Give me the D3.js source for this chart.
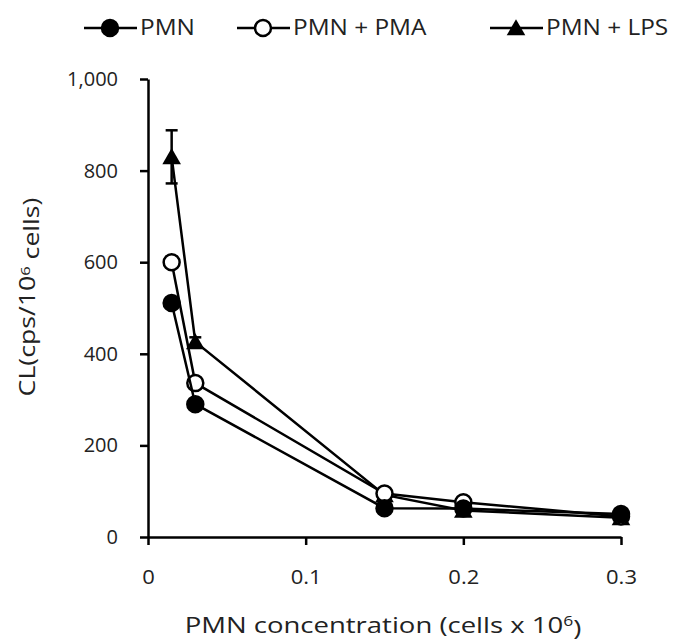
<!DOCTYPE html>
<html>
<head>
<meta charset="utf-8">
<script src="https://cdn.jsdelivr.net/npm/d3@7"></script>
<style>
  body { margin: 0; background: #fff; }
  text { font-family: "Open Sans", sans-serif; fill: #222; }
</style>
</head>
<body>
<div class="chart"></div>
<script>
var svgWidth = 686;
var svgHeight = 641;

var margin = { top: 79, right: 65, bottom: 104, left: 148 };
var width = svgWidth - margin.left - margin.right;
var height = svgHeight - margin.top - margin.bottom;

// data
var concentration = [0.015, 0.03, 0.15, 0.2, 0.3];
var pmn = [511, 290, 63, 62, 50];
var pmnPma = [600, 336, 95, 76, 45];
var pmnLps = [830, 426, 92, 58, 42];
var pmnLpsErr = [58, 10, 0, 0, 0];
var xTicks = [0, 0.1, 0.2, 0.3];
var yTicks = [0, 200, 400, 600, 800, 1000];

var series = [
  { name: "PMN + LPS", values: pmnLps, err: pmnLpsErr, marker: "triangle" },
  { name: "PMN + PMA", values: pmnPma, marker: "open" },
  { name: "PMN", values: pmn, marker: "filled" }
];

// the source font runs wider than Open Sans in the titles
var stretch = 1.22;

var svg = d3.select(".chart")
  .append("svg")
  .attr("width", svgWidth)
  .attr("height", svgHeight);

var chartGroup = svg.append("g")
  .attr("transform", `translate(${margin.left}, ${margin.top})`);

var x = d3.scaleLinear().domain([0, 0.3]).range([0, width]);
var y = d3.scaleLinear().domain([0, 1000]).range([height, 0]);

var bottomAxis = d3.axisBottom(x)
  .tickValues(xTicks)
  .tickSize(8)
  .tickSizeOuter(0)
  .tickPadding(25)
  .tickFormat(d => d === 0 ? "0" : d.toFixed(1));

var leftAxis = d3.axisLeft(y)
  .tickValues(yTicks)
  .tickSize(8)
  .tickSizeOuter(0)
  .tickPadding(22)
  .tickFormat(d3.format(","));

var xAxis = chartGroup.append("g")
  .attr("transform", `translate(0, ${height})`)
  .call(bottomAxis);

var yAxis = chartGroup.append("g")
  .call(leftAxis);

[xAxis, yAxis].forEach(function(a) {
  a.selectAll("path, line").attr("stroke", "#000").attr("stroke-width", 2.5);
  a.selectAll("text").style("font-size", "20px").attr("fill", "#222");
});

xAxis.selectAll("text").attr("transform", "scale(1.1,1)");

function drawMarker(g, type, cx, cy) {
  if (type === "triangle") {
    g.append("path")
      .attr("d", d3.symbol().type(d3.symbolTriangle).size(150)())
      .attr("transform", `translate(${cx}, ${cy + 2})`)
      .attr("fill", "#000");
  } else {
    g.append("circle")
      .attr("cx", cx)
      .attr("cy", cy)
      .attr("r", 8)
      .attr("fill", type === "open" ? "#fff" : "#000")
      .attr("stroke", "#000")
      .attr("stroke-width", 2.5);
  }
}

var line = d3.line()
  .x((d, i) => x(concentration[i]))
  .y(d => y(d));

series.forEach(function(s) {
  var g = chartGroup.append("g");
  g.append("path")
    .datum(s.values)
    .attr("d", line)
    .attr("fill", "none")
    .attr("stroke", "#000")
    .attr("stroke-width", 2.5);

  if (s.err) {
    s.values.forEach(function(v, i) {
      if (!s.err[i]) return;
      var cx = x(concentration[i]);
      g.append("line")
        .attr("x1", cx).attr("x2", cx)
        .attr("y1", y(v - s.err[i])).attr("y2", y(v + s.err[i]))
        .attr("stroke", "#000").attr("stroke-width", 2.5);
      [v - s.err[i], v + s.err[i]].forEach(function(e) {
        g.append("line")
          .attr("x1", cx - 6).attr("x2", cx + 6)
          .attr("y1", y(e)).attr("y2", y(e))
          .attr("stroke", "#000").attr("stroke-width", 2.5);
      });
    });
  }

  s.values.forEach(function(v, i) {
    drawMarker(g, s.marker, x(concentration[i]), y(v));
  });
});

// legend
var legendItems = [
  { name: "PMN", marker: "filled", x: 84 },
  { name: "PMN + PMA", marker: "open", x: 237 },
  { name: "PMN + LPS", marker: "triangle", x: 490 }
];

var legend = svg.append("g").attr("transform", "translate(0, 28)");
legendItems.forEach(function(it) {
  var g = legend.append("g");
  g.append("line")
    .attr("x1", it.x).attr("x2", it.x + 53)
    .attr("y1", 0).attr("y2", 0)
    .attr("stroke", "#000").attr("stroke-width", 2.5);
  drawMarker(g, it.marker, it.x + 26, 0);
  g.append("text")
    .attr("transform", `translate(${it.x + 56}, 0) scale(1.16,1)`)
    .attr("dy", "0.35em")
    .style("font-size", "21px")
    .text(it.name);
});

// axis titles
var xTitle = svg.append("text")
  .attr("transform", `translate(383, 625) scale(${stretch + 0.03},1)`)
  .attr("dy", "0.35em")
  .attr("text-anchor", "middle")
  .style("font-size", "22px");
xTitle.append("tspan").text("PMN concentration (cells x 10");
xTitle.append("tspan").attr("dy", "-0.45em").style("font-size", "14px").text("6");
xTitle.append("tspan").attr("dy", "0.45em").text(")");

var yTitle = svg.append("text")
  .attr("transform", `translate(28, 297) rotate(-90) scale(${stretch + 0.05},1)`)
  .attr("dy", "0.35em")
  .attr("text-anchor", "middle")
  .style("font-size", "21px");
yTitle.append("tspan").text("CL(cps/10");
yTitle.append("tspan").attr("dy", "-0.45em").style("font-size", "13px").text("6");
yTitle.append("tspan").attr("dy", "0.45em").text(" cells)");
</script>
</body>
</html>
